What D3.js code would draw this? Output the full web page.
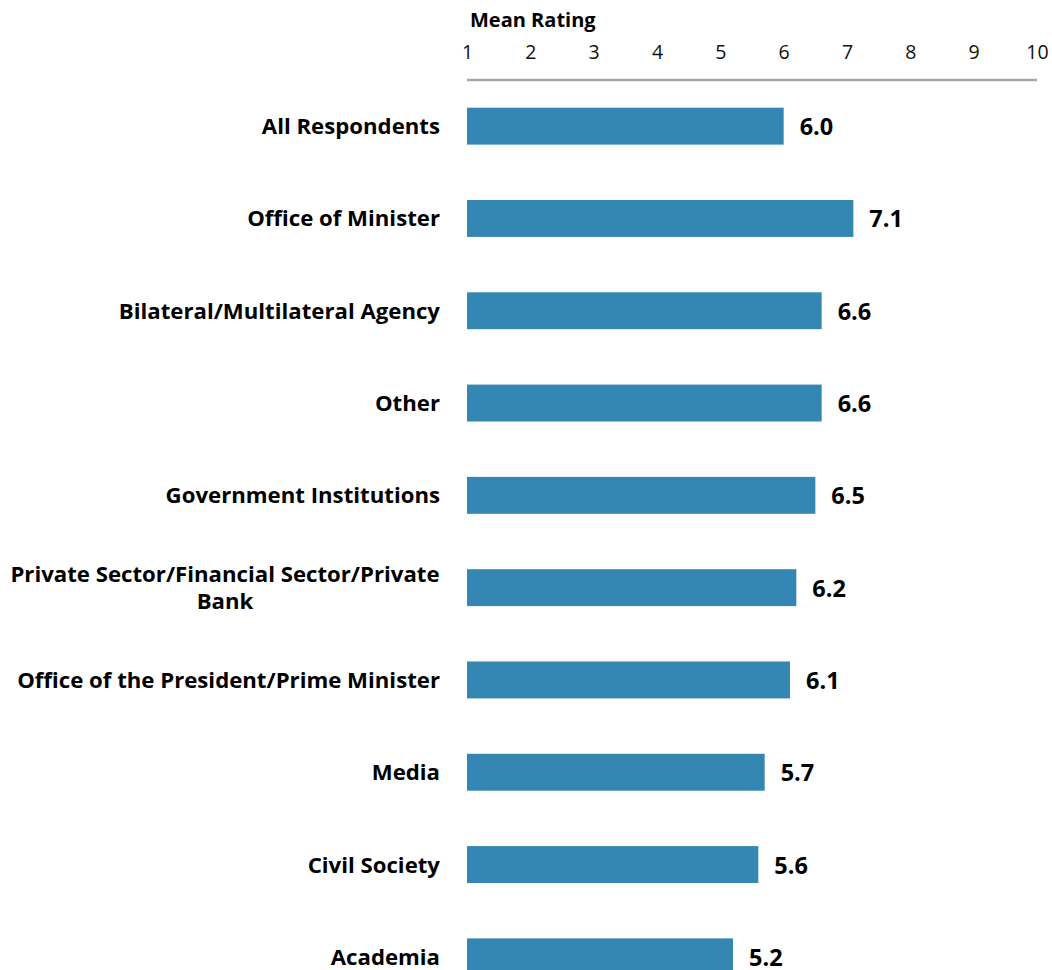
<!DOCTYPE html>
<html><head><meta charset="utf-8">
<script src="https://cdn.jsdelivr.net/npm/d3@7"></script>
<style>html,body{margin:0;padding:0;background:#fff;overflow:hidden}</style>
</head><body>
<script>
const categories = ["All Respondents","Office of Minister","Bilateral/Multilateral Agency","Other","Government Institutions","Private Sector/Financial Sector/Private Bank","Office of the President/Prime Minister","Media","Civil Society","Academia"];
const labelLines = [["All Respondents"],["Office of Minister"],["Bilateral/Multilateral Agency"],["Other"],["Government Institutions"],["Private Sector/Financial Sector/Private","Bank"],["Office of the President/Prime Minister"],["Media"],["Civil Society"],["Academia"]];
const values = [6.0,7.1,6.6,6.6,6.5,6.2,6.1,5.7,5.6,5.2];
const ticks = [1,2,3,4,5,6,7,8,9,10];
const axisTitle = "Mean Rating";

const W=1052,H=970;
const font = "'Open Sans', sans-serif";
const svg = d3.select("body").append("svg").attr("width",W).attr("height",H);
const x = d3.scaleLinear().domain([1,10]).range([467,1037]);
const y = d3.scaleBand().domain(categories).range([80,1003]).paddingInner(0.6).paddingOuter(0.3);

// axis
const ax = d3.axisTop(x).tickValues(ticks).tickSize(0).tickPadding(21).tickFormat(d3.format("d"));
const g = svg.append("g").attr("transform","translate(0,80)").call(ax);
g.select(".domain").attr("stroke","#a6a6a6").attr("stroke-width",2.5).attr("d",`M${x(1)},0H${x(10)}`);
g.selectAll("text").attr("font-family",font).attr("font-size",19.5).attr("fill","#111");

svg.append("text").attr("x",x(1)+3).attr("y",27).text(axisTitle)
  .attr("font-family",font).attr("font-size",20).attr("font-weight","bold").attr("fill","#000");

// bars
svg.selectAll("rect.bar").data(categories).enter().append("rect")
  .attr("x",x(1)).attr("y",d=>y(d))
  .attr("width",(d,i)=>x(values[i])-x(1)).attr("height",y.bandwidth())
  .attr("fill","#3487b2");

// value labels
svg.selectAll("text.val").data(categories).enter().append("text")
  .attr("x",(d,i)=>x(values[i])+16).attr("y",d=>y(d)+y.bandwidth()/2+9)
  .text((d,i)=>values[i].toFixed(1))
  .attr("font-family",font).attr("font-size",23.5).attr("font-weight","bold").attr("fill","#000");

// category labels
categories.forEach((c,i)=>{
  const lines = labelLines[i];
  const cy = y(c)+y.bandwidth()/2;
  const lh = 27;
  const t = svg.append("text").attr("font-family",font).attr("font-size",22.2).attr("font-weight","bold").attr("fill","#000");
  lines.forEach((ln,j)=>{
    const yy = cy + (j-(lines.length-1)/2)*lh + 8;
    if(lines.length>1){
      t.append("tspan").attr("x",225).attr("y",yy).attr("text-anchor","middle").text(ln);
    } else {
      t.append("tspan").attr("x",440).attr("y",yy).attr("text-anchor","end").text(ln);
    }
  });
});
</script>
</body></html>
